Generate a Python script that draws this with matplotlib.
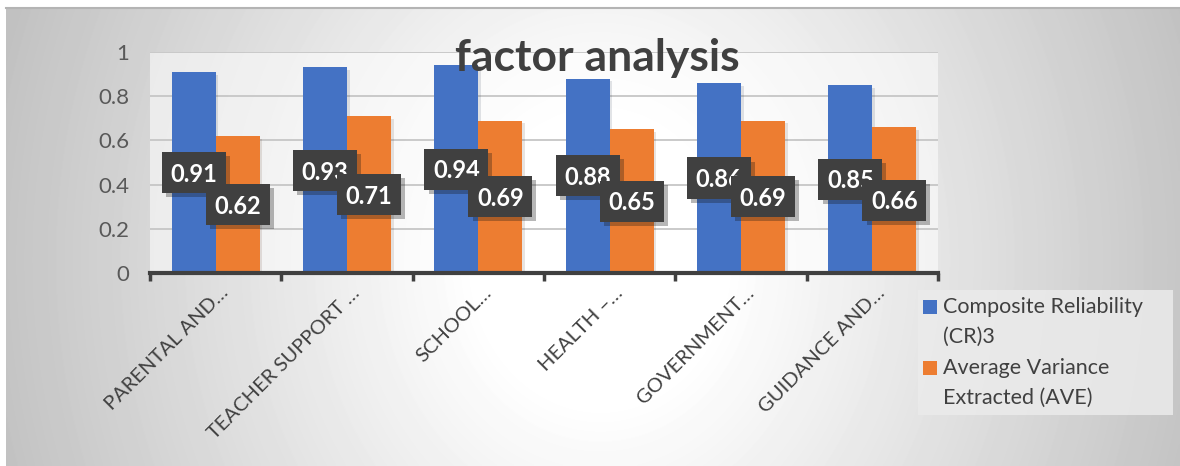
import numpy as np
import matplotlib
matplotlib.use("Agg")
import matplotlib.pyplot as plt
from matplotlib.patches import Rectangle
from matplotlib import patheffects as pe
from matplotlib.transforms import ScaledTranslation

plt.rcParams["font.family"] = ["Lato", "DejaVu Sans"]

CATEGORIES = ["PARENTAL AND…", "TEACHER SUPPORT …", "SCHOOL…",
              "HEALTH –…", "GOVERNMENT…", "GUIDANCE AND…"]
CR = [0.91, 0.93, 0.94, 0.88, 0.86, 0.85]
AVE = [0.62, 0.71, 0.69, 0.65, 0.69, 0.66]
SERIES = ["Composite Reliability\n(CR)3", "Average Variance\nExtracted (AVE)"]
COLORS = ["#4472C4", "#ED7D31"]
YTICKS = [0, 0.2, 0.4, 0.6, 0.8, 1]
TITLE = "factor analysis"

TEXT = "#404040"
W, H = 1180, 466
fig = plt.figure(figsize=(W / 100, H / 100), dpi=100)


def px(x0, y0, x1, y1):
    """pixel box (origin top-left) -> figure-fraction rect"""
    return [x0 / W, 1 - y1 / H, (x1 - x0) / W, (y1 - y0) / H]


# ── soft radial backdrop ─────────────────────────────────────────────────────
bg = fig.add_axes(px(6, 8, W, H), zorder=0)
yy, xx = np.mgrid[8:H, 6:W]
d = np.sqrt(((xx - 600) / 620) ** 2 + ((yy - 260) / 720) ** 2)
shade = 1 - 0.24 * np.clip((d - 0.2) / 0.8, 0, 1)
bg.imshow(shade, cmap="gray", vmin=0, vmax=1, aspect="auto",
          interpolation="bilinear")
bg.set_xticks([])
bg.set_yticks([])
for side in ("left", "right", "bottom"):
    bg.spines[side].set_visible(False)
bg.spines["top"].set_color("#b4b4b4")
bg.spines["top"].set_linewidth(1.5)

# ── bars ─────────────────────────────────────────────────────────────────────
ax = fig.add_axes(px(150, 52, 938, 273), zorder=1)
ax.set_facecolor((1, 1, 1, 0.55))

x = np.arange(len(CATEGORIES))
w = 0.335
shadow = [pe.SimplePatchShadow(offset=(2, -2), alpha=0.12), pe.Normal()]
for i, (vals, col) in enumerate(zip([CR, AVE], COLORS)):
    bars = ax.bar(x + (i - 0.5) * w, vals, w, color=col, zorder=2)
    for b in bars:
        b.set_path_effects(shadow)

# value labels: dark boxes centred at half the bar height
box_w, box_h = 0.487, 0.186
box_fx = [pe.SimplePatchShadow(offset=(3, -3), alpha=0.3), pe.Normal()]
z = 4
for i, vals in enumerate([CR, AVE]):
    for xi, v in zip(x + (i - 0.5) * w, vals):
        r = Rectangle((xi - box_w / 2, v / 2 - box_h / 2), box_w, box_h,
                      fc="#404040", ec="none", zorder=z)
        r.set_path_effects(box_fx)
        ax.add_patch(r)
        ax.text(xi, v / 2 - 0.008, f"{v:.2f}", ha="center", va="center",
                color="white", fontsize=17, fontweight="bold", zorder=z + 0.5)
    z += 1

ax.set_xlim(-0.5, len(CATEGORIES) - 0.5)
ax.set_ylim(0, 1)
ax.set_yticks(YTICKS, [f"{t:g}" for t in YTICKS])
ax.tick_params(axis="y", length=0, pad=15, labelsize=16, labelcolor="#595959")
ax.yaxis.grid(True, color="#c6c6c6", lw=1.3)
ax.set_axisbelow(True)

ax.set_xticks(np.arange(-0.5, len(CATEGORIES), 1))
ax.set_xticklabels([])
ax.tick_params(axis="x", which="major", length=6, width=2.5, color=TEXT)
ax.set_xticks(x, CATEGORIES, minor=True)
ax.tick_params(axis="x", which="minor", length=0, pad=8,
               labelsize=14.5, labelcolor=TEXT)
shift = ScaledTranslation(0.04, 0, fig.dpi_scale_trans)
for lab in ax.get_xticklabels(minor=True):
    lab.set_rotation(45)
    lab.set_ha("right")
    lab.set_va("top")
    lab.set_rotation_mode("anchor")
    lab.set_transform(lab.get_transform() + shift)

for side in ("top", "right", "left"):
    ax.spines[side].set_visible(False)
ax.spines["bottom"].set_color(TEXT)
ax.spines["bottom"].set_linewidth(3)

fig.text(597 / W, 1 - 58 / H, TITLE, fontsize=32, fontweight="bold",
         color=TEXT, ha="center", va="center", zorder=5)

# ── legend, drawn by hand so squares line up with the first text line ─────────
fig.patches.append(Rectangle((918 / W, 1 - 415 / H), 255 / W, 125 / H,
                             transform=fig.transFigure, fc="#ebebeb",
                             ec="none", alpha=0.85, zorder=2))
for k, (name, col) in enumerate(zip(SERIES, COLORS)):
    top = 307 + k * 61
    fig.patches.append(Rectangle((923 / W, 1 - (top + 7) / H), 14 / W, 14 / H,
                                 transform=fig.transFigure, fc=col,
                                 ec="none", zorder=3))
    for j, line in enumerate(name.split("\n")):
        fig.text(943 / W, 1 - (top + j * 30) / H, line, fontsize=15.5,
                 color=TEXT, ha="left", va="center", zorder=4)

fig.savefig("out.png", dpi=100)
